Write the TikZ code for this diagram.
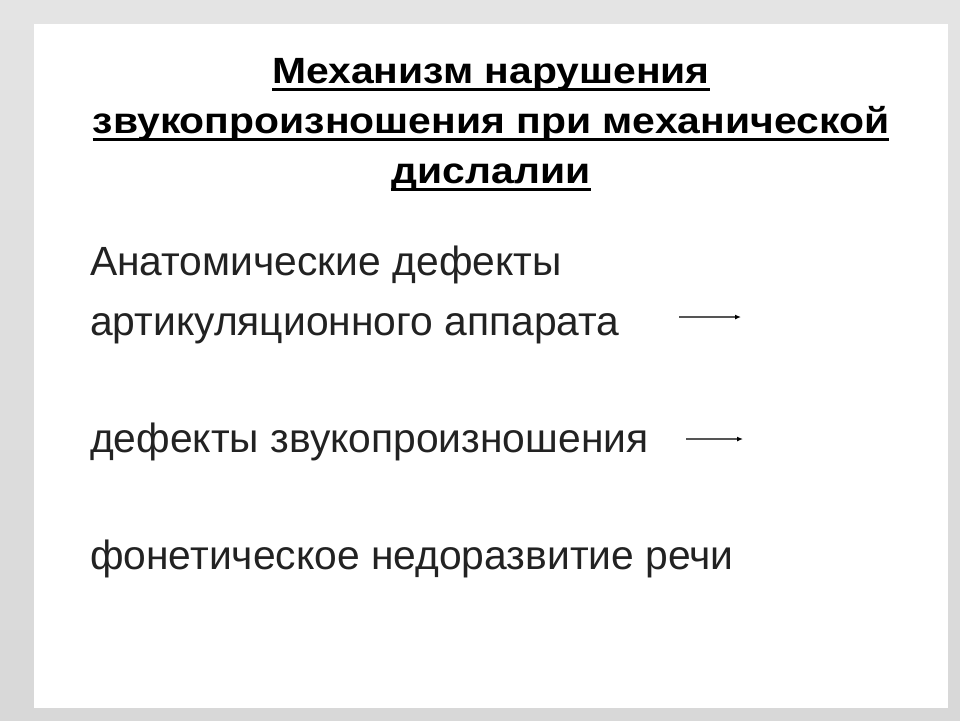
\documentclass[tikz,border=0pt]{standalone}
\usepackage{fontspec}
\setmainfont{Liberation Sans}
\newfontfamily\headfont[FakeStretch=1.12]{Liberation Sans}
\usetikzlibrary{arrows.meta}
\definecolor{slidetop}{HTML}{E4E4E4}
\definecolor{slidebottom}{HTML}{D8D8D8}
\definecolor{textgrey}{HTML}{222222}
\definecolor{linkgrey}{HTML}{555555}
\tikzset{
  headline/.style={font=\headfont\fontsize{36.5}{50}\selectfont\bfseries, text=black, anchor=base, inner sep=0pt},
  item/.style={font=\fontsize{40.8}{48}\selectfont, text=textgrey, anchor=base west, inner sep=0pt},
  headrule/.style={line width=2.6pt, black},
  link/.style={draw=linkgrey, line width=1.4pt, -{Latex[length=6pt,width=5pt,color=black]}}
}
\begin{document}
\begin{tikzpicture}[x=1pt, y=-1pt]
\useasboundingbox (0,0) rectangle (960,720);
\shade[top color=slidetop, bottom color=slidebottom] (0,0) rectangle (960,720);
\fill[white] (34,24) rectangle (948,708);

% title
\node[headline] (title1) at (491,83) {Механизм нарушения};
\node[headline] (title2) at (491,133) {звукопроизношения при механической};
\node[headline] (title3) at (491,183) {дислалии};
\foreach \t in {title1,title2,title3}
  \draw[headrule] ([yshift=-6.5pt]\t.base west) -- ([yshift=-6.5pt]\t.base east);

% items
\node[item] (anat) at (90,275) {Анатомические дефекты};
\node[item] (artic) at (90,335) {артикуляционного аппарата};
\node[item] (sound) at (90,452) {дефекты звукопроизношения};
\node[item] (phon) at (90,569) {фонетическое недоразвитие речи};

\coordinate (a1s) at (679,317);
\coordinate (a1e) at (741,317);
\coordinate (a2s) at (686,439);
\coordinate (a2e) at (743,439);

\draw[link] (a1s) -- (a1e);
\draw[link] (a2s) -- (a2e);
\end{tikzpicture}
\end{document}
